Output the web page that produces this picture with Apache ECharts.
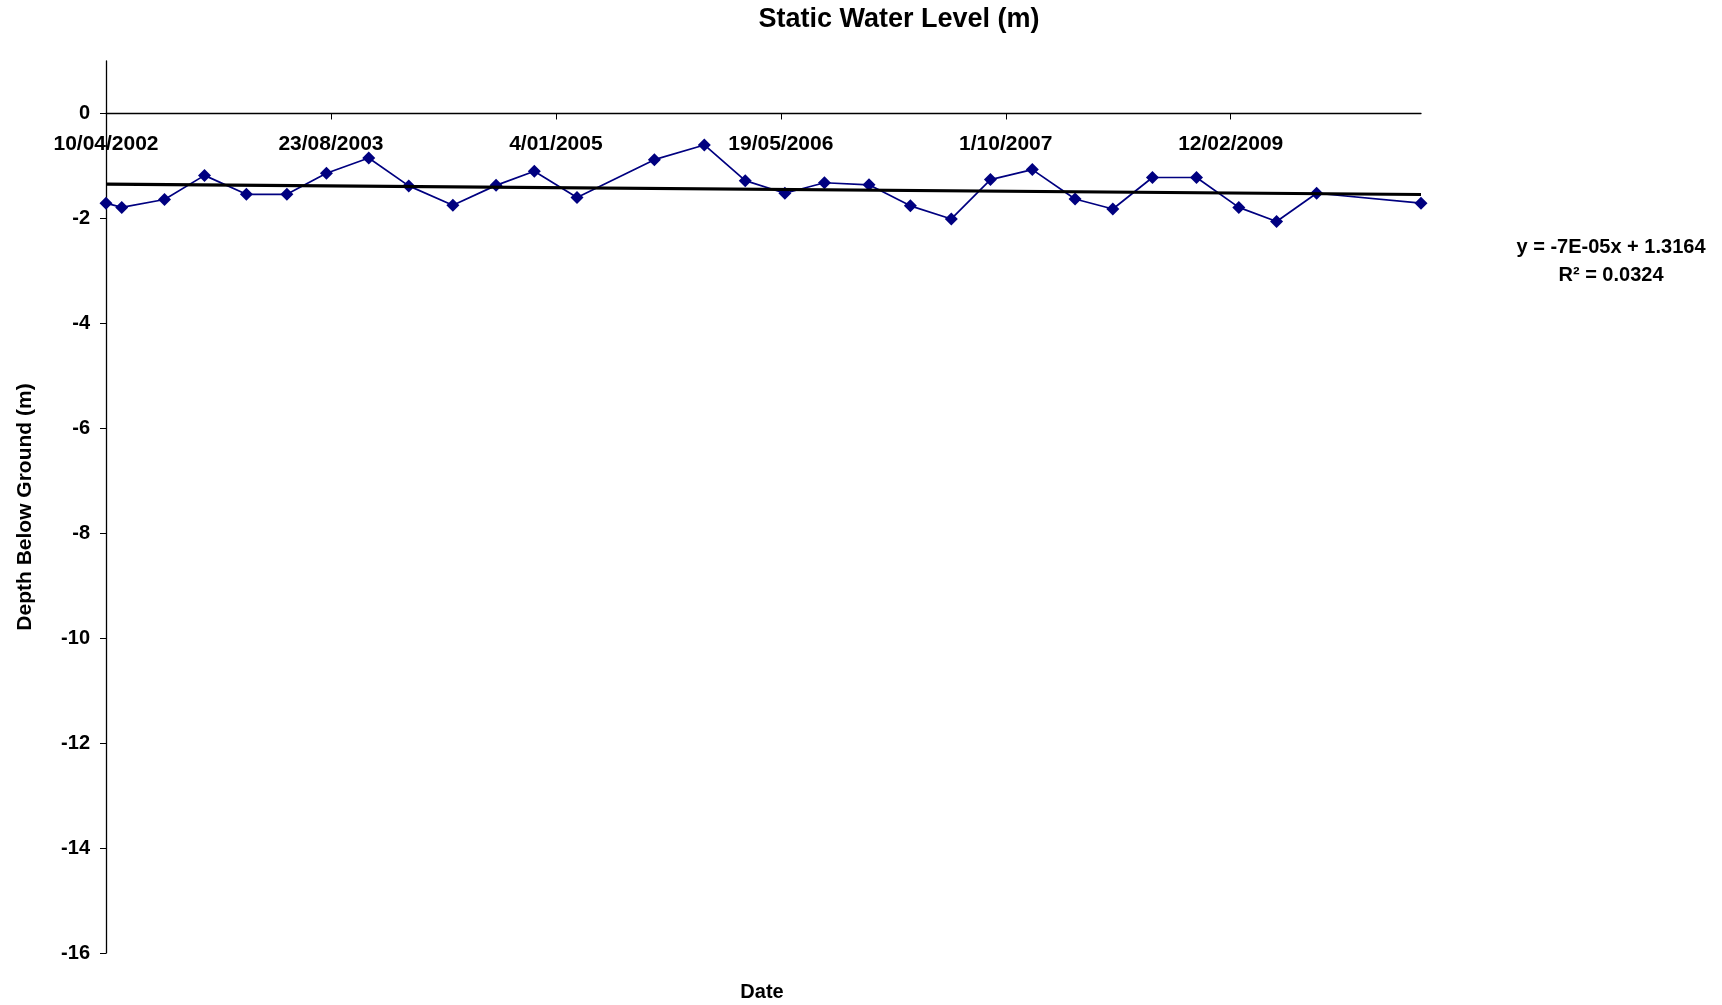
<!DOCTYPE html>
<html>
<head>
<meta charset="utf-8">
<script src="https://cdn.jsdelivr.net/npm/echarts@6/dist/echarts.min.js"></script>
<style>
  html, body { margin: 0; padding: 0; background: #fff; }
  #chart { width: 1722px; height: 1005px; }
</style>
</head>
<body>
<div id="chart"></div>
<script>
// sample dates and static water level, m below ground
const sampleDates = [
  '2002-04-10', '2002-05-15', '2002-08-18', '2002-11-15', '2003-02-16', '2003-05-17',
  '2003-08-13', '2003-11-15', '2004-02-12', '2004-05-20', '2004-08-24', '2004-11-17',
  '2005-02-20', '2005-08-11', '2005-11-30', '2006-03-01', '2006-05-28', '2006-08-24',
  '2006-12-01', '2007-03-03', '2007-06-02', '2007-08-28', '2007-11-29', '2008-03-03',
  '2008-05-26', '2008-08-22', '2008-11-28', '2009-03-02', '2009-05-25', '2009-08-22',
  '2010-04-11'
];
const waterLevel = [
  -1.71, -1.79, -1.64, -1.18, -1.54, -1.54,
  -1.14, -0.85, -1.38, -1.75, -1.37, -1.10,
  -1.60, -0.88, -0.60, -1.28, -1.52, -1.32,
  -1.36, -1.76, -2.01, -1.26, -1.07, -1.63,
  -1.82, -1.22, -1.22, -1.79, -2.06, -1.52,
  -1.71
];
const xTickDates = ['2002-04-10', '2003-08-23', '2005-01-04', '2006-05-19', '2007-10-01', '2009-02-12'];
const yTicks = [0, -2, -4, -6, -8, -10, -12, -14, -16];
const yMin = -16, yMax = 1;
const trendText = ['y = -7E-05x + 1.3164', 'R\u00b2 = 0.0324'];

const DAY = 86400000;
const t0 = Date.parse(sampleDates[0]);
const toDays = s => Math.round((Date.parse(s) - t0) / DAY);
const fmtDate = d => {
  const dt = new Date(t0 + d * DAY);
  const m = dt.getUTCMonth() + 1;
  return dt.getUTCDate() + '/' + (m < 10 ? '0' + m : m) + '/' + dt.getUTCFullYear();
};

const xs = sampleDates.map(toDays);
const points = xs.map((x, i) => [x, waterLevel[i]]);

// linear trendline (least squares), like the spreadsheet did
const n = xs.length;
const mx = xs.reduce((a, b) => a + b, 0) / n;
const my = waterLevel.reduce((a, b) => a + b, 0) / n;
let sxy = 0, sxx = 0;
xs.forEach((x, i) => { sxy += (x - mx) * (waterLevel[i] - my); sxx += (x - mx) * (x - mx); });
const slope = sxy / sxx;
const icpt = my - slope * mx;
const xFirst = xs[0], xLast = xs[n - 1];
const trend = [[xFirst, icpt + slope * xFirst], [xLast, icpt + slope * xLast]];

const FONT = "'Liberation Sans', Arial, sans-serif";
const H = 1005, gridTop = 61, gridBottom = 52;
// date axis crosses the value axis at 0: shift it down from the top edge
const zeroOffset = -(yMax - 0) * (H - gridTop - gridBottom) / (yMax - yMin);

const chart = echarts.init(document.getElementById('chart'));
chart.setOption({
  animation: false,
  textStyle: { fontFamily: FONT },
  grid: { left: 106, right: 301, top: gridTop, bottom: gridBottom },
  xAxis: {
    type: 'value',
    min: 0,
    max: xLast,
    position: 'top',
    offset: zeroOffset,
    axisLine: { onZero: false, lineStyle: { color: '#000', width: 1.3 } },
    axisTick: { inside: true, length: 6, lineStyle: { color: '#000' }, customValues: xTickDates.map(toDays) },
    axisLabel: {
      inside: true,
      customValues: xTickDates.map(toDays),
      formatter: v => fmtDate(v),
      margin: 20,
      color: '#000', fontWeight: 'bold', fontSize: 21, fontFamily: FONT
    },
    splitLine: { show: false }
  },
  yAxis: {
    type: 'value',
    min: yMin,
    max: yMax,
    name: 'Depth Below Ground (m)',
    nameLocation: 'middle',
    nameGap: 70,
    nameTextStyle: { color: '#000', fontWeight: 'bold', fontSize: 21, fontFamily: FONT },
    axisLine: { show: true, onZero: false, lineStyle: { color: '#000', width: 1.3 } },
    axisTick: { show: true, length: 6, lineStyle: { color: '#000' }, customValues: yTicks },
    axisLabel: {
      customValues: yTicks,
      margin: 16,
      color: '#000', fontWeight: 'bold', fontSize: 20, fontFamily: FONT
    },
    splitLine: { show: false }
  },
  series: [
    {
      name: 'Static Water Level',
      type: 'line',
      data: points,
      symbol: 'diamond',
      symbolSize: 13,
      lineStyle: { color: '#000080', width: 1.7 },
      itemStyle: { color: '#000080' },
      z: 3
    },
    {
      name: 'Linear trend',
      type: 'line',
      data: trend,
      symbol: 'none',
      lineStyle: { color: '#000', width: 3.2 },
      z: 4
    }
  ],
  graphic: [
    {
      type: 'text', x: 899, y: 20,
      style: { text: 'Static Water Level (m)', font: 'bold 27px ' + FONT, fill: '#000', align: 'center', verticalAlign: 'middle' }
    },
    {
      type: 'text', x: 762, y: 992,
      style: { text: 'Date', font: 'bold 20px ' + FONT, fill: '#000', align: 'center', verticalAlign: 'middle' }
    },
    {
      type: 'text', x: 1611, y: 247,
      style: { text: trendText[0], font: 'bold 20px ' + FONT, fill: '#000', align: 'center', verticalAlign: 'middle' }
    },
    {
      type: 'text', x: 1611, y: 275,
      style: { text: trendText[1], font: 'bold 20px ' + FONT, fill: '#000', align: 'center', verticalAlign: 'middle' }
    }
  ]
});
</script>
</body>
</html>
